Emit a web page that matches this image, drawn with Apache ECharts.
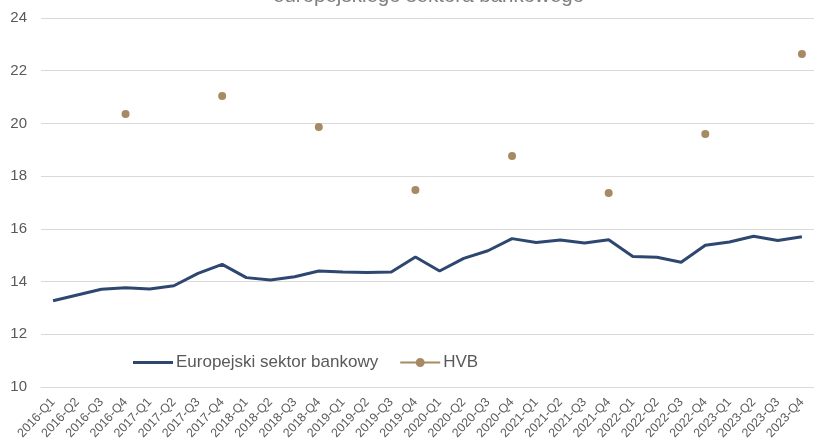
<!DOCTYPE html>
<html>
<head>
<meta charset="utf-8">
<script src="https://cdn.jsdelivr.net/npm/echarts@6/dist/echarts.min.js"></script>
<style>
html, body { margin: 0; padding: 0; background: #fff; }
#chart { width: 814px; height: 448px; }
</style>
</head>
<body>
<div id="chart"></div>
<script>
var quarters = [
	'2016-Q1','2016-Q2','2016-Q3','2016-Q4','2017-Q1','2017-Q2','2017-Q3','2017-Q4',
	'2018-Q1','2018-Q2','2018-Q3','2018-Q4','2019-Q1','2019-Q2','2019-Q3','2019-Q4',
	'2020-Q1','2020-Q2','2020-Q3','2020-Q4','2021-Q1','2021-Q2','2021-Q3','2021-Q4',
	'2022-Q1','2022-Q2','2022-Q3','2022-Q4','2023-Q1','2023-Q2','2023-Q3','2023-Q4'
];
var sektorValues = [
	13.27, 13.49, 13.71, 13.77, 13.72, 13.84, 14.31, 14.65,
	14.15, 14.06, 14.18, 14.40, 14.36, 14.34, 14.36, 14.93,
	14.40, 14.88, 15.17, 15.63, 15.48, 15.58, 15.46, 15.59,
	14.95, 14.92, 14.73, 15.38, 15.50, 15.72, 15.56, 15.70
];
// HVB tylko na koniec roku
var hvbValues = [
	null, null, null, 20.36, null, null, null, 21.04,
	null, null, null, 19.86, null, null, null, 17.47,
	null, null, null, 18.76, null, null, null, 17.36,
	null, null, null, 19.60, null, null, null, 22.63
];
var yTicks = [10, 12, 14, 16, 18, 20, 22, 24];

var myChart = echarts.init(document.getElementById('chart'));
var txt = '#595959';
// ikony legendy: linia / linia z kropką
var iconLine = 'path://M0,0 L40,0 L40,3 L0,3 Z';
var iconDot = 'path://M0,3.5 L40,3.5 L40,5.5 L0,5.5 Z M15.5,4.5 A4.5,4.5 0 1,1 24.5,4.5 A4.5,4.5 0 1,1 15.5,4.5 Z';
var option = {
	animation: false,
	textStyle: { fontFamily: 'Liberation Sans, Arial, sans-serif' },
	title: {
		text: 'europejskiego sektora bankowego',
		left: 268,
		top: -19,
		textStyle: { color: '#7f7f7f', fontSize: 20.5, fontWeight: 'normal' }
	},
	legend: {
		left: 128,
		top: 349,
		itemWidth: 40,
		itemHeight: 9,
		itemGap: 22,
		symbolKeepAspect: true,
		textStyle: { color: txt, fontSize: 17, padding: [0, 0, 0, -2] },
		data: [
			{ name: 'Europejski sektor bankowy', icon: iconLine },
			{ name: 'HVB', icon: iconDot }
		]
	},
	grid: { left: 41, right: -3, top: 18, bottom: 61, containLabel: false },
	xAxis: {
		type: 'category',
		data: quarters,
		boundaryGap: true,
		axisLine: { lineStyle: { color: '#d9d9d9' } },
		axisTick: { show: false },
		axisLabel: { color: txt, fontSize: 12.5, rotate: 47, interval: 0, margin: 13 }
	},
	yAxis: {
		type: 'value',
		min: yTicks[0],
		max: yTicks[yTicks.length - 1],
		interval: 2,
		axisLine: { show: false },
		axisTick: { show: false },
		axisLabel: { color: txt, fontSize: 15, margin: 14 },
		splitLine: { lineStyle: { color: '#d9d9d9' } }
	},
	series: [
		{
			name: 'Europejski sektor bankowy',
			type: 'line',
			data: sektorValues,
			symbol: 'none',
			lineStyle: { color: '#2d4770', width: 3 },
			itemStyle: { color: '#2d4770' }
		},
		{
			name: 'HVB',
			type: 'line',
			data: hvbValues,
			symbol: 'circle',
			symbolSize: 8,
			showAllSymbol: true,
			connectNulls: false,
			lineStyle: { color: '#a68a64', width: 3 },
			itemStyle: { color: '#a68a64' }
		}
	]
};
myChart.setOption(option);
</script>
</body>
</html>
